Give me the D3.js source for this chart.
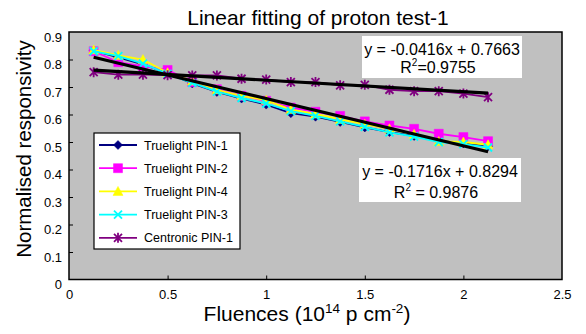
<!DOCTYPE html>
<html>
<head>
<meta charset="utf-8">
<script src="https://cdn.jsdelivr.net/npm/d3@7"></script>
<style>
  body { margin: 0; background: #fff; }
  text { font-family: Arial, "Liberation Sans", sans-serif; fill: #000; }
</style>
</head>
<body>
<div id="my_dataviz"></div>
<script>
// data
var fluence = [0.125, 0.25, 0.375, 0.5, 0.625, 0.75, 0.875, 1.0, 1.125, 1.25, 1.375, 1.5, 1.625, 1.75, 1.875, 2.0, 2.125];
var truelightPin1 = [0.832, 0.808, 0.782, 0.750, 0.713, 0.682, 0.658, 0.636, 0.605, 0.592, 0.573, 0.553, 0.536, 0.522, 0.505, 0.495, 0.485];
var truelightPin2 = [0.830, 0.790, 0.775, 0.762, 0.718, 0.692, 0.668, 0.650, 0.625, 0.610, 0.595, 0.575, 0.560, 0.548, 0.530, 0.518, 0.503];
var truelightPin4 = [0.835, 0.815, 0.800, 0.752, 0.722, 0.690, 0.668, 0.652, 0.618, 0.602, 0.582, 0.565, 0.548, 0.528, 0.502, 0.500, 0.490];
var truelightPin3 = [0.830, 0.812, 0.785, 0.748, 0.715, 0.683, 0.660, 0.640, 0.612, 0.595, 0.575, 0.555, 0.535, 0.520, 0.500, 0.492, 0.480];
var centronicPin1 = [0.754, 0.745, 0.745, 0.743, 0.742, 0.742, 0.730, 0.727, 0.718, 0.718, 0.706, 0.708, 0.690, 0.685, 0.685, 0.676, 0.663];

var seriesNames = ["Truelight PIN-1", "Truelight PIN-2", "Truelight PIN-4", "Truelight PIN-3", "Centronic PIN-1"];

// linear fits (slope, intercept) shown in the boxes
var fitSlopes = [-0.0416, -0.1716];
var fitIntercepts = [0.7663, 0.8294];
var fitLabels = [["y = -0.0416x + 0.7663", "0.9755"], ["y = -0.1716x + 0.8294", "0.9876"]];

var xTicks = [0, 0.5, 1, 1.5, 2, 2.5];
var yTicks = [0, 0.1, 0.2, 0.3, 0.4, 0.5, 0.6, 0.7, 0.8, 0.9];

var margin = {top: 32, right: 24, bottom: 54.5, left: 69},
    width = 586 - margin.left - margin.right,
    height = 334 - margin.top - margin.bottom;

var svg = d3.select("#my_dataviz")
  .append("svg")
    .attr("width", 586)
    .attr("height", 334);

var g = svg.append("g")
    .attr("transform", "translate(" + margin.left + "," + margin.top + ")");

var x = d3.scaleLinear().domain([0, 2.5]).range([0, width]);
var y = d3.scaleLinear().domain([0, 0.9]).range([height, 0]);

// plot area
g.append("rect")
  .attr("width", width)
  .attr("height", height)
  .attr("fill", "#c0c0c0");

// axes, ticks pointing inward
var xAxis = g.append("g")
  .attr("transform", "translate(0," + height + ")")
  .call(d3.axisBottom(x).tickValues(xTicks).tickSize(-4).tickPadding(10).tickFormat(d3.format("")));
var yAxis = g.append("g")
  .call(d3.axisLeft(y).tickValues(yTicks).tickSize(-4).tickPadding(7).tickFormat(d3.format("")));
[xAxis, yAxis].forEach(function (a) {
  a.select(".domain").remove();
  a.selectAll("line").attr("stroke", "#000").attr("stroke-width", 1);
  a.selectAll("text").style("font-size", "13px").attr("fill", "#000");
});
yAxis.selectAll("text").attr("dy", "0.7em");
xAxis.selectAll(".tick").filter(function (d) { return d === 0 || d === 2.5; }).select("line").remove();
yAxis.selectAll(".tick").filter(function (d) { return d === 0 || d === 0.9; }).select("line").remove();

// series
var series = [
  {name: seriesNames[0], values: truelightPin1, color: "#000080", marker: "diamond"},
  {name: seriesNames[1], values: truelightPin2, color: "#ff00ff", marker: "square"},
  {name: seriesNames[2], values: truelightPin4, color: "#ffff00", marker: "triangle"},
  {name: seriesNames[3], values: truelightPin3, color: "#00ffff", marker: "x"},
  {name: seriesNames[4], values: centronicPin1, color: "#800080", marker: "star"}
];

function markerPath(type) {
  if (type === "diamond") return "M0,-4.5L4.5,0L0,4.5L-4.5,0Z";
  if (type === "square") return "M-4.5,-4.5H4.5V4.5H-4.5Z";
  if (type === "triangle") return "M0,-5L5,4L-5,4Z";
  if (type === "x") return "M-4,-4L4,4M-4,4L4,-4";
  return "M-4,-4L4,4M-4,4L4,-4M0,-5V5";
}
function drawMarker(sel, s) {
  var filled = s.marker === "diamond" || s.marker === "square" || s.marker === "triangle";
  sel.attr("d", markerPath(s.marker))
    .attr("fill", filled ? s.color : "none")
    .attr("stroke", s.color)
    .attr("stroke-width", filled ? 0.5 : 1.8);
}

var line = d3.line()
  .x(function (d) { return x(d[0]); })
  .y(function (d) { return y(d[1]); });

series.forEach(function (s) {
  var pts = fluence.map(function (f, i) { return [f, s.values[i]]; });
  g.append("path")
    .attr("d", line(pts))
    .attr("fill", "none")
    .attr("stroke", s.color)
    .attr("stroke-width", 1.8);
  g.append("g").selectAll("path")
    .data(pts)
    .enter()
    .append("path")
      .attr("transform", function (d) { return "translate(" + x(d[0]) + "," + y(d[1]) + ")"; })
      .each(function () { drawMarker(d3.select(this), s); });
});

// trend lines
var x0 = fluence[0], x1 = fluence[fluence.length - 1];
fitSlopes.forEach(function (m, i) {
  var b = fitIntercepts[i];
  g.append("path")
    .attr("d", line([[x0, m * x0 + b], [x1, m * x1 + b]]))
    .attr("stroke", "#000")
    .attr("stroke-width", 3.2);
});

// frame
g.append("rect")
  .attr("width", width)
  .attr("height", height)
  .attr("fill", "none")
  .attr("stroke", "#000")
  .attr("stroke-width", 1.5);

// equation boxes
var eqBoxes = [
  {x: 362, y: 36, w: 160, h: 42, l1: 55, l2: 73, cx: 442},
  {x: 359, y: 158, w: 162, h: 44, l1: 177, l2: 198, cx: 440}
];
eqBoxes.forEach(function (b, i) {
  svg.append("rect")
    .attr("x", b.x).attr("y", b.y).attr("width", b.w).attr("height", b.h)
    .attr("fill", "#fff");
  svg.append("text")
    .attr("x", b.cx).attr("y", b.l1)
    .attr("text-anchor", "middle")
    .style("font-size", "16px")
    .text(fitLabels[i][0]);
  var t = svg.append("text")
    .attr("x", b.cx - 4).attr("y", b.l2)
    .attr("text-anchor", "middle")
    .style("font-size", "16px");
  t.append("tspan").text("R");
  t.append("tspan").attr("dy", -7).style("font-size", "10px").text("2");
  t.append("tspan").attr("dy", 7).text(i === 0 ? "=" + fitLabels[i][1] : " = " + fitLabels[i][1]);
});

// legend
var legend = svg.append("g").attr("transform", "translate(94,133)");
legend.append("rect")
  .attr("width", 146).attr("height", 116)
  .attr("fill", "#fff").attr("stroke", "#000").attr("stroke-width", 1.2);
series.forEach(function (s, i) {
  var ly = 12 + i * 23.2;
  legend.append("line")
    .attr("x1", 5).attr("x2", 43).attr("y1", ly).attr("y2", ly)
    .attr("stroke", s.color).attr("stroke-width", 1.8);
  legend.append("path")
    .attr("transform", "translate(24," + ly + ")")
    .call(drawMarker, s);
  legend.append("text")
    .attr("x", 50).attr("y", ly + 4.5)
    .style("font-size", "12.5px")
    .text(s.name);
});

// titles
svg.append("text")
  .attr("x", 318).attr("y", 25)
  .attr("text-anchor", "middle")
  .style("font-size", "21px")
  .text("Linear fitting of proton test-1");

var xt = svg.append("text")
  .attr("x", 307).attr("y", 321)
  .attr("text-anchor", "middle")
  .style("font-size", "21px");
xt.append("tspan").text("Fluences (10");
xt.append("tspan").attr("dy", -8).style("font-size", "13.5px").text("14");
xt.append("tspan").attr("dy", 8).text(" p cm");
xt.append("tspan").attr("dy", -8).style("font-size", "13.5px").text("-2");
xt.append("tspan").attr("dy", 8).text(")");

svg.append("text")
  .attr("transform", "translate(31,149) rotate(-90)")
  .attr("text-anchor", "middle")
  .style("font-size", "20.5px")
  .text("Normalised responsivity");
</script>
</body>
</html>
